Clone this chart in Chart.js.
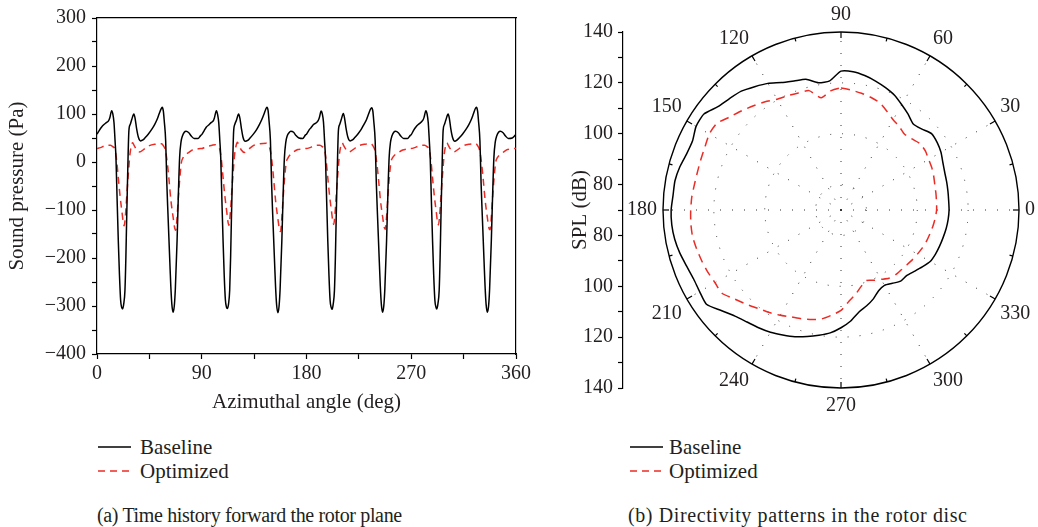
<!DOCTYPE html>
<html>
<head>
<meta charset="utf-8">
<script src="https://cdn.jsdelivr.net/npm/chart.js@4.4.1/dist/chart.umd.min.js"></script>
<style>
html,body{margin:0;padding:0;background:#fff;width:1038px;height:527px;overflow:hidden;}
body{position:relative;font-family:'Liberation Serif','Times New Roman',serif;color:#231f20;}
canvas{position:absolute;}
#timeChart{left:0;top:0;}
#polarChart{left:581px;top:0;}
#splAxis{left:540px;top:0;}
.legend{position:absolute;font-size:21px;line-height:24px;}
.legend .row{display:flex;align-items:center;white-space:nowrap;height:24px;}
.legend svg{display:block;}
.caption{position:absolute;font-size:20px;line-height:24px;white-space:nowrap;}
</style>
</head>
<body>
<canvas id="timeChart" width="540" height="420"></canvas>
<canvas id="polarChart" width="520" height="420"></canvas>
<canvas id="splAxis" width="90" height="420"></canvas>

<div class="legend" id="legendA" style="left:98px;top:435px"></div>
<div class="legend" id="legendB" style="left:630px;top:435px"></div>
<div class="caption" style="left:97px;top:503px;letter-spacing:-0.35px">(a) Time history forward the rotor plane</div>
<div class="caption" style="left:628px;top:503px;letter-spacing:0.6px">(b) Directivity patterns in the rotor disc</div>

<script>
// ---------------- data: panel (a) time history ----------------
const seriesNames = ['Baseline', 'Optimized'];

const baselineDeg = [
  0,2,4,6,8,10,11,12.6,13.6,14.6, 15.5,16.3,17.3,18.3,19.3,20.3,21.2,22,23,24,
  24.8,25.4,26.4,27.4,28.5,29.8,31.7,32.8,34,35.5, 37.4,39.5,41.5,44,47,49.5,51.5,53.5,55,56,
  57,57.8,59,60,61,62.6,63.4,64.3,65.4,66.4, 67.3,68.8,70,71,72.2,73.4,75,76.5,78.9,81, 83.5,86.8,89,
  90,92,94,96,98,100,101,102.6,103.6,104.6, 105.5,106.3,107.3,108.3,109.3,110.3,111.2,112,113,114,
  114.8,115.4,116.4,117.4,118.5,119.8,121.7,122.8,124,125.5, 127.4,129.5,131.5,134,137,139.5,141.5,143.5,145,146,
  147,147.8,149,150,151,152.6,153.4,154.3,155.4,156.4, 157.3,158.8,160,161,162.2,163.4,165,166.5,168.9,171, 173.5,176.8,179,
  180,182,184,186,188,190,191,192.6,193.6,194.6, 195.5,196.3,197.3,198.3,199.3,200.3,201.2,202,203,204,
  204.8,205.4,206.4,207.4,208.5,209.8,211.7,212.8,214,215.5, 217.4,219.5,221.5,224,227,229.5,231.5,233.5,235,236,
  237,237.8,239,240,241,242.6,243.4,244.3,245.4,246.4, 247.3,248.8,250,251,252.2,253.4,255,256.5,258.9,261, 263.5,266.8,269,
  270,272,274,276,278,280,281,282.6,283.6,284.6, 285.5,286.3,287.3,288.3,289.3,290.3,291.2,292,293,294,
  294.8,295.4,296.4,297.4,298.5,299.8,301.7,302.8,304,305.5, 307.4,309.5,311.5,314,317,319.5,321.5,323.5,325,326,
  327,327.8,329,330,331,332.6,333.4,334.3,335.4,336.4, 337.3,338.8,340,341,342.2,343.4,345,346.5,348.9,351, 353.5,356.8,359,360
];
const baselinePa = [
  58,66,73,78,82,86,92,107,100,82, 45,9,-80,-164,-235,-288,-303,-306,-295,-268,
  -200,-129,-20,65,78,88,100,90,70,52, 44,46,51,58,68,78,88,101,110,114,
  106,85,44,-45,-110,-210,-258,-296,-313,-300, -265,-164,-60,10,42,54,62,64,61,54, 49,49,55,
  57,65,73,77,82,86,93,107,99,82, 46,10,-78,-163,-236,-287,-302,-305,-296,-267,
  -198,-128,-22,64,79,87,100,91,71,51, 43,45,50,57,67,78,88,100,110,114,
  107,86,45,-44,-112,-211,-259,-297,-314,-301, -266,-165,-62,8,41,54,61,64,62,55, 50,49,56,
  58,66,72,78,81,86,92,106,100,83, 45,9,-79,-165,-236,-289,-303,-307,-295,-268,
  -201,-130,-21,65,78,88,101,90,70,52, 44,46,51,58,68,79,88,101,110,113,
  106,85,44,-45,-111,-210,-258,-296,-313,-300, -265,-164,-60,9,42,54,62,64,61,54, 49,49,55,
  57,66,73,78,82,87,93,107,100,82, 45,8,-80,-164,-236,-288,-302,-306,-294,-267,
  -199,-128,-20,66,78,88,100,90,69,51, 43,46,51,58,68,78,88,101,111,114,
  106,85,44,-44,-110,-210,-258,-296,-313,-301, -266,-164,-61,9,42,54,62,64,61,54, 49,50,55,58
];

const optimizedDeg = [
  0,3,6,9,11.5,13.5,15.4,16.8,18.3,20, 21.5,22.5,23.4,24.2,25,26,26.9,28.3,29.5,30.6,
  32,34,36.6,40,45,50,55.4,57,58.8,60.3, 61.8,63.5,65.4,66.8,67.7,68.7,69.7,71,72.6,74, 75.6,79,82.6,86,89,
  90,93,96,99,101.5,103.5,105.4,106.8,108.3,110, 111.5,112.5,113.4,114.2,115,116,116.9,118.3,119.5,120.6,
  122,124,126.6,130,135,140,145.4,147,148.8,150.3, 151.8,153.5,155.4,156.8,157.7,158.7,159.7,161,162.6,164, 165.6,169,172.6,176,179,
  180,183,186,189,191.5,193.5,195.4,196.8,198.3,200, 201.5,202.5,203.4,204.2,205,206,206.9,208.3,209.5,210.6,
  212,214,216.6,220,225,230,235.4,237,238.8,240.3, 241.8,243.5,245.4,246.8,247.7,248.7,249.7,251,252.6,254, 255.6,259,262.6,266,269,
  270,273,276,279,281.5,283.5,285.4,286.8,288.3,290, 291.5,292.5,293.4,294.2,295,296,296.9,298.3,299.5,300.6,
  302,304,306.6,310,315,320,325.4,327,328.8,330.3, 331.8,333.5,335.4,336.8,337.7,338.7,339.7,341,342.6,344, 345.6,349,352.6,356,359,360
];
const optimizedPa = [
  28,30,33,35,35,32,26,5,-33,-75, -105,-125,-133,-118,-92,-55,-26,16,33,40,
  34,26,21,26,34,37,38,34,24,0, -35,-80,-115,-138,-142,-118,-81,-38,0,9, 14,20,26,27,28,
  28,31,33,35,36,33,27,6,-32,-74, -104,-124,-132,-117,-91,-54,-25,17,34,41,
  35,25,20,26,35,38,39,35,25,1, -36,-82,-118,-141,-145,-120,-83,-39,-1,8, 14,21,26,27,28,
  28,30,33,35,35,32,26,5,-33,-74, -103,-122,-130,-116,-90,-54,-26,16,33,40,
  34,26,21,26,34,37,38,34,24,0, -34,-79,-114,-136,-140,-117,-80,-37,0,9, 14,20,25,27,28,
  28,30,33,35,35,32,26,5,-33,-75, -104,-124,-131,-117,-91,-55,-26,16,33,40,
  34,26,21,26,34,37,38,34,24,0, -35,-80,-116,-138,-141,-118,-81,-38,0,9, 14,20,26,27,28,28
];

const xTickLabels = [0, 90, 180, 270, 360];
const yTickLabels = [-400, -300, -200, -100, 0, 100, 200, 300];

// ---------------- data: panel (b) directivity ----------------
const polarDeg = [
  0,5,10,15,20,25,30,35,40,45, 50,55,60,65,70,75,80,85,90,95,
  100,105,110,115,120,125,130,135,140,145, 150,155,160,165,170,175,180,185,190,195,
  200,205,210,215,220,225,230,235,240,245, 250,255,260,265,270,275,280,285,290,295,
  300,305,310,315,320,325,330,335,340,345, 350,355
];
const baselineSPL = [
  112.5,112.5,112.7,113.0,113.4,114.2,115.4,116.2,116.6,115.0,
  114.2,116.0,117.8,119.8,121.2,122.5,123.7,124.6,124.6,121.0,
  120.8,123.2,124.0,125.3,127.5,129.2,131.0,132.0,133.2,135.8,
  135.8,134.4,134.6,135.6,136.3,136.3,136.8,136.8,136.4,135.6,
  134.6,134.0,134.2,134.6,131.5,129.0,127.5,126.5,125.5,124.2,
  123.0,121.5,120.0,118.5,116.3,113.8,110.7,109.0,107.2,105.0,
  104.2,105.2,106.5,106.5,107.6,109.0,110.5,111.0,111.3,111.6,
  112.0,112.3
];
const optimizedSPL = [
  107.6,107.7,107.9,108.2,108.8,109.4,109.8,110.5,110.6,109.5,
  108.9,110.0,111.0,112.8,114.8,115.8,116.6,117.3,118.0,117.0,
  114.8,118.6,119.0,119.6,120.3,122.0,123.5,125.2,127.0,129.5,
  129.8,129.0,128.6,128.4,128.5,128.9,129.1,129.3,129.3,128.8,
  128.3,127.8,127.2,127.1,124.5,122.5,120.6,119.2,117.8,116.4,
  115.5,114.6,113.5,111.5,109.5,106.0,103.5,101.0,99.5,100.5,
  101.5,102.8,103.3,103.4,103.7,104.2,104.7,105.3,105.8,106.2,
  106.7,107.2
];
const angleLabels = [0, 30, 60, 90, 120, 150, 180, 210, 240, 270, 300, 330];
const splRings = [70, 80, 100, 120, 140];
const splAxisLabels = [80, 100, 120, 140];

// ---------------- styling ----------------
const FONT = "'Liberation Serif', 'Times New Roman', serif";
const INK = '#231f20';
const RED = '#ec2b24';
const SERIES_STYLE = [
  { color: '#000000', dash: [] },
  { color: RED, dash: [7, 5] }
];
const POLAR_DASH = [9, 6];
Chart.defaults.font.family = FONT;
Chart.defaults.color = INK;

const minusSign = v => String(v).replace('-', '\u2212');

// ---------------- legends (HTML) ----------------
function buildLegend(el, gap) {
  seriesNames.forEach((name, i) => {
    const row = document.createElement('div');
    row.className = 'row';
    const st = SERIES_STYLE[i];
    row.innerHTML = '<svg width="33" height="6" style="margin-right:' + gap + 'px">' +
      '<line x1="0" y1="3" x2="33" y2="3" stroke="' + st.color + '" stroke-width="1.6"' +
      (st.dash.length ? ' stroke-dasharray="' + st.dash.join(',') + '"' : '') + '/></svg>' +
      '<span>' + name + '</span>';
    el.appendChild(row);
  });
}
buildLegend(document.getElementById('legendA'), 9);
buildLegend(document.getElementById('legendB'), 6);

// ---------------- panel (a) ----------------
const tickFont = { family: FONT, size: 20 };
const titleFont = { family: FONT, size: 21 };

new Chart(document.getElementById('timeChart'), {
  type: 'line',
  data: {
    datasets: [
      {
        label: seriesNames[0],
        data: baselineDeg.map((d, i) => ({ x: d, y: baselinePa[i] })),
        borderColor: SERIES_STYLE[0].color, borderWidth: 1.5, pointRadius: 0,
        cubicInterpolationMode: 'monotone', fill: false
      },
      {
        label: seriesNames[1],
        data: optimizedDeg.map((d, i) => ({ x: d, y: optimizedPa[i] })),
        borderColor: SERIES_STYLE[1].color, borderWidth: 1.5, borderDash: SERIES_STYLE[1].dash,
        pointRadius: 0, cubicInterpolationMode: 'monotone', fill: false
      }
    ]
  },
  options: {
    responsive: false, animation: false, devicePixelRatio: 1,
    layout: { padding: { left: 0, top: 16, right: 24, bottom: 0 } },
    plugins: { legend: { display: false }, tooltip: { enabled: false } },
    scales: {
      x: {
        type: 'linear', position: 'bottom', min: 0, max: 360,
        afterFit(s) { s.height = 66; },
        ticks: {
          stepSize: 45, autoSkip: false, maxRotation: 0, padding: 3, font: tickFont, color: INK,
          callback: v => xTickLabels.includes(v) ? String(v) : ''
        },
        grid: { drawOnChartArea: false, drawTicks: true, tickLength: 5, color: '#000', tickWidth: 1.2 },
        border: { display: true, color: '#000', width: 1.2 },
        title: { display: true, text: 'Azimuthal angle (deg)', font: titleFont, color: INK, padding: { top: 0, bottom: 5 } }
      },
      y: {
        type: 'linear', position: 'left', min: -400, max: 300,
        afterFit(s) { s.width = 97; },
        ticks: {
          stepSize: 50, autoSkip: false, padding: 6, font: tickFont, color: INK,
          callback: v => yTickLabels.includes(v) ? minusSign(v) : ''
        },
        grid: { drawOnChartArea: false, drawTicks: true, tickLength: 5, color: '#000', tickWidth: 1.2 },
        border: { display: true, color: '#000', width: 1.2 },
        title: { display: true, text: 'Sound pressure (Pa)', font: titleFont, color: INK, padding: { top: 5, bottom: 0 } }
      },
      x2: {
        type: 'linear', position: 'top', min: 0, max: 360,
        afterFit(s) { s.height = 0; },
        ticks: { display: false }, grid: { display: false },
        border: { display: true, color: '#000', width: 1.2 }
      },
      y2: {
        type: 'linear', position: 'right', min: -400, max: 300,
        afterFit(s) { s.width = 0; },
        ticks: { display: false }, grid: { display: false },
        border: { display: true, color: '#000', width: 1.2 }
      }
    }
  }
});

// ---------------- panel (b): SPL axis ----------------
new Chart(document.getElementById('splAxis'), {
  type: 'line',
  data: { datasets: [] },
  options: {
    responsive: false, animation: false, devicePixelRatio: 1,
    layout: { padding: { left: 0, top: 32, right: 0, bottom: 32 } },
    plugins: { legend: { display: false }, tooltip: { enabled: false } },
    scales: {
      x: { type: 'linear', display: false, min: 0, max: 1 },
      y: {
        type: 'linear', position: 'left', min: -70, max: 70,
        afterFit(s) { s.width = 83; },
        ticks: {
          stepSize: 10, autoSkip: false, padding: 5, font: tickFont, color: INK,
          callback: v => { const db = 70 + Math.abs(v); return splAxisLabels.includes(db) ? String(db) : ''; }
        },
        grid: { drawOnChartArea: false, drawTicks: true, tickLength: 5, color: '#000', tickWidth: 1.2 },
        border: { display: true, color: '#000', width: 1.2 },
        title: { display: true, text: 'SPL (dB)', font: titleFont, color: INK, padding: { top: 28, bottom: 0 } }
      }
    }
  }
});

// ---------------- panel (b): polar directivity ----------------
// radar runs clockwise from the top, the reference runs counter-clockwise from the right
const N = polarDeg.length;
const topIndex = polarDeg.indexOf(90);
const radarIdx = polarDeg.map((_, i) => (topIndex - i + N) % N);
const radarLabels = radarIdx.map(k => polarDeg[k]);

const rimTicks = {
  id: 'rimTicks',
  afterDatasetsDraw(chart) {
    const s = chart.scales.r;
    const ctx = chart.ctx;
    ctx.save();
    ctx.strokeStyle = '#000';
    ctx.lineWidth = 1.2;
    chart.data.labels.forEach((lab, i) => {
      if (lab % 15 !== 0) return;
      const len = lab % 30 === 0 ? 6 : 3.5;
      const p1 = s.getPointPosition(i, s.drawingArea);
      const p2 = s.getPointPosition(i, s.drawingArea - len);
      ctx.beginPath(); ctx.moveTo(p1.x, p1.y); ctx.lineTo(p2.x, p2.y); ctx.stroke();
    });
    ctx.restore();
  }
};

new Chart(document.getElementById('polarChart'), {
  type: 'radar',
  data: {
    labels: radarLabels,
    datasets: [
      {
        label: seriesNames[0],
        data: radarIdx.map(k => baselineSPL[k]),
        borderColor: SERIES_STYLE[0].color, borderWidth: 1.5, pointRadius: 0, fill: false, tension: 0.2
      },
      {
        label: seriesNames[1],
        data: radarIdx.map(k => optimizedSPL[k]),
        borderColor: SERIES_STYLE[1].color, borderWidth: 1.5, borderDash: POLAR_DASH,
        pointRadius: 0, fill: false, tension: 0.2
      }
    ]
  },
  options: {
    responsive: false, animation: false, devicePixelRatio: 1,
    layout: { padding: { left: 15, right: 15, top: 3, bottom: 3 } },
    plugins: { legend: { display: false }, tooltip: { enabled: false } },
    scales: {
      r: {
        min: 70, max: 140, startAngle: 0,
        afterBuildTicks(s) { s.ticks = splRings.map(v => ({ value: v })); },
        ticks: { display: false },
        grid: {
          circular: true,
          color: c => (c.tick && c.tick.value === 140) ? '#000' : '#333',
          lineWidth: c => (c.tick && c.tick.value === 140) ? 1.4 : 1
        },
        border: { dash: c => (c.tick && c.tick.value === 140) ? [] : [1, 11] },
        angleLines: {
          display: true,
          color: c => c.label !== '' ? '#333' : 'rgba(0,0,0,0)',
          lineWidth: c => c.label !== '' ? 1 : 0,
          borderDash: [1, 11]
        },
        pointLabels: {
          display: true, padding: 6, color: INK,
          font: { family: FONT, size: 20, lineHeight: 1.15 },
          callback: lab => angleLabels.includes(lab) ? String(lab) : ''
        }
      }
    }
  },
  plugins: [rimTicks]
});
</script>
</body>
</html>
